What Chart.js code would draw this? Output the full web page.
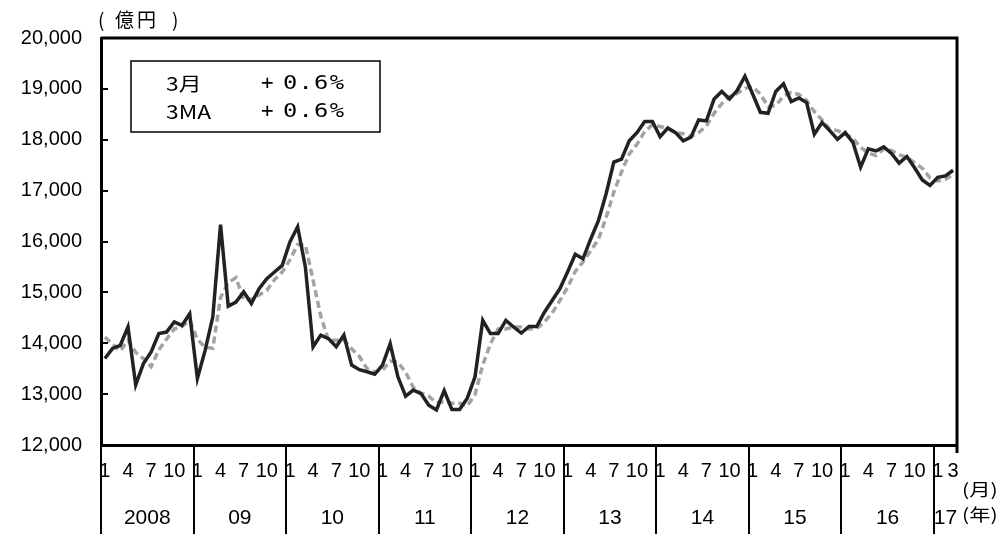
<!DOCTYPE html>
<html>
<head>
<meta charset="utf-8">
<script src="https://cdn.jsdelivr.net/npm/chart.js@4/dist/chart.umd.min.js"></script>
<style>
  body { margin: 0; background: #fff; }
  #wrap { width: 1005px; height: 534px; position: relative; }
</style>
</head>
<body>
<div id="wrap"><canvas id="graphique"></canvas></div>
<script>
// years shown on the axis and how many months each one has
const years = [2008, 2009, 2010, 2011, 2012, 2013, 2014, 2015, 2016, 2017];
const monthsPerYear = [12, 12, 12, 12, 12, 12, 12, 12, 12, 3];
const yearLabels = ['2008', '09', '10', '11', '12', '13', '14', '15', '16', '17'];
const monthTicks = [1, 4, 7, 10];

// monthly value (億円)
const monthly = [
  13700, 13900, 13960, 14320, 13180, 13600, 13830, 14190, 14220, 14420, 14350, 14580,
  13310, 13860, 14520, 16330, 14730, 14810, 15010, 14780, 15070, 15270, 15400, 15530,
  15990, 16290, 15500, 13930, 14160, 14090, 13930, 14160, 13570, 13480, 13440, 13390,
  13570, 13990, 13340, 12960, 13080, 13010, 12780, 12690, 13070, 12700, 12700, 12920,
  13340, 14450, 14190, 14190, 14450, 14320, 14200, 14330, 14330, 14610, 14840, 15070,
  15400, 15750, 15660, 16050, 16410, 16940, 17560, 17620, 17980, 18140, 18360, 18360,
  18060, 18230, 18140, 17980, 18050, 18390, 18370, 18800, 18950, 18800, 18970, 19250,
  18900, 18540, 18520, 18950, 19100, 18750, 18820, 18730, 18110, 18340, 18180, 18010,
  18140, 17950, 17460, 17820, 17780, 17860, 17730, 17540, 17670, 17450, 17210, 17100,
  17260, 17290, 17400
];

// 3MA (dashed grey line)
const movingAvg = [
  14120, 13980, 13850, 14060, 13820, 13700, 13540, 13870, 14080, 14280, 14330, 14450,
  14080, 13920, 13900, 14900, 15190, 15290, 14850, 14870, 14950, 15040, 15250, 15400,
  15640, 15940, 15930, 15240, 14530, 14060, 14060, 14060, 13890, 13740, 13500, 13440,
  13470, 13650, 13630, 13430, 13130, 13020, 12960, 12830, 12850, 12820, 12820, 12770,
  12990, 13570, 13990, 14280, 14280, 14320, 14320, 14280, 14290, 14420, 14590, 14840,
  15100, 15410, 15600, 15820, 16040, 16470, 16970, 17370, 17720, 17910, 18160, 18290,
  18260, 18220, 18140, 18120, 18060, 18140, 18270, 18520, 18710, 18850, 18910, 19010,
  19040, 18900, 18650, 18670, 18860, 18930, 18890, 18770, 18550, 18390, 18210, 18180,
  18110, 18030, 17850, 17740, 17690, 17820, 17790, 17710, 17650, 17550, 17440, 17250,
  17190, 17220, 17320
];

const legendRows = [['3月', '+', '0.6%'], ['3MA', '+', '0.6%']];

// categories (one per month) + middle of each year for the year row
let categories = [];
let yearMid = [];
years.forEach((y, k) => {
  yearMid.push(categories.length + monthsPerYear[k] / 2);
  for (let m = 1; m <= monthsPerYear[k]; m++) {
    categories.push(y + '/' + m);
  }
});

Chart.defaults.font.family = "'Liberation Sans', Arial, sans-serif";
Chart.defaults.color = '#000';

// texte un peu élargi comme dans l'original
function wideText(ctx, txt, x, y, sx) {
  ctx.save();
  ctx.translate(x, y);
  ctx.scale(sx, 1);
  ctx.fillText(txt, 0, 0);
  ctx.restore();
}

const cadre = {
  id: 'cadre',
  beforeDraw(chart) {
    const ctx = chart.ctx;
    ctx.save();
    ctx.fillStyle = '#fff';
    ctx.fillRect(0, 0, chart.width, chart.height);
    ctx.restore();
  },
  afterDraw(chart) {
    const ctx = chart.ctx;
    const a = chart.chartArea;
    ctx.save();
    // top and right side of the frame
    ctx.strokeStyle = '#000';
    ctx.lineWidth = 3;
    ctx.beginPath();
    ctx.moveTo(a.left, a.top);
    ctx.lineTo(a.right, a.top);
    ctx.lineTo(a.right, a.bottom + 8);
    ctx.stroke();

    // unit label
    ctx.fillStyle = '#000';
    ctx.textBaseline = 'middle';
    ctx.font = "19px 'Noto Sans CJK JP'";
    ctx.fillText('(', a.left - 3, 20);
    ctx.letterSpacing = '3px';
    ctx.fillText('億円', a.left + 14, 20);
    ctx.letterSpacing = '0px';
    ctx.fillText(')', a.left + 71, 20);

    // (月) / (年)
    ctx.font = "17px 'Noto Sans CJK JP'";
    wideText(ctx, '(月)', a.right + 5, 490, 1.25);
    wideText(ctx, '(年)', a.right + 5, 515, 1.25);

    // legend box
    const bx = a.left + 30, by = a.top + 23;
    ctx.lineWidth = 1.5;
    ctx.strokeRect(bx, by, 249, 71);
    legendRows.forEach((row, i) => {
      const ty = by + 23 + i * 28;
      ctx.font = "19px 'Noto Sans CJK JP'";
      wideText(ctx, row[0], bx + 35, ty, 1.2);
      ctx.font = "19px 'DejaVu Sans Mono'";
      wideText(ctx, row[1], bx + 130, ty, 1.1);
      ctx.letterSpacing = '1px';
      wideText(ctx, row[2], bx + 152, ty, 1.25);
      ctx.letterSpacing = '0px';
    });
    ctx.restore();
  }
};

const graph = document.getElementById('graphique');

new Chart(graph, {
  type: 'line',
  data: {
    labels: categories,
    datasets: [{
      label: '3月',
      data: monthly,
      borderColor: '#222',
      borderWidth: 3.5,
      pointRadius: 0,
      tension: 0,
      xAxisID: 'x'
    }, {
      label: '3MA',
      data: movingAvg,
      borderColor: '#a3a3a3',
      borderWidth: 3.5,
      borderDash: [7, 4],
      pointRadius: 0,
      tension: 0,
      xAxisID: 'x'
    }]
  },
  options: {
    responsive: true,
    maintainAspectRatio: false,
    animation: false,
    layout: { padding: { left: 0, right: 48, top: 37, bottom: 0 } },
    plugins: {
      legend: { display: false },
      tooltip: { enabled: false }
    },
    scales: {
      x: {
        type: 'category',
        position: 'bottom',
        weight: 0,
        offset: true,
        grid: {
          offset: true,
          drawOnChartArea: false,
          tickLength: 89,
          lineWidth: 2,
          color: ctx => (ctx.index !== undefined && ctx.index % 12 === 0) ? '#000' : 'rgba(0,0,0,0)'
        },
        border: { color: '#000', width: 3 },
        ticks: {
          autoSkip: false, // tous les mois, on filtre dans le callback
          maxRotation: 0,
          minRotation: 0,
          padding: -75,
          font: { size: 20 },
          callback: (v, i) => {
            const m = i % 12 + 1;
            return (monthTicks.includes(m) || i === categories.length - 1) ? String(m) : '';
          }
        },
        afterFit: s => { s.height = 38; }
      },
      x2: {
        type: 'linear',
        position: 'bottom',
        weight: 1,
        min: 0,
        max: categories.length,
        grid: { display: false },
        border: { display: false },
        ticks: {
          autoSkip: false,
          maxRotation: 0,
          padding: 15,
          font: { size: 21 },
          callback: (v, i) => yearLabels[i]
        },
        afterBuildTicks: s => { s.ticks = yearMid.map(v => ({ value: v })); },
        afterFit: s => { s.height = 51; }
      },
      y: {
        min: 12000,
        max: 20000,
        ticks: { stepSize: 1000, padding: 26, font: { size: 20 } },
        grid: { drawOnChartArea: false, tickLength: -7, lineWidth: 2, color: '#000' },
        border: { color: '#000', width: 3 },
        afterFit: s => { s.width = 101; }
      }
    }
  },
  plugins: [cadre]
});
</script>
</body>
</html>
